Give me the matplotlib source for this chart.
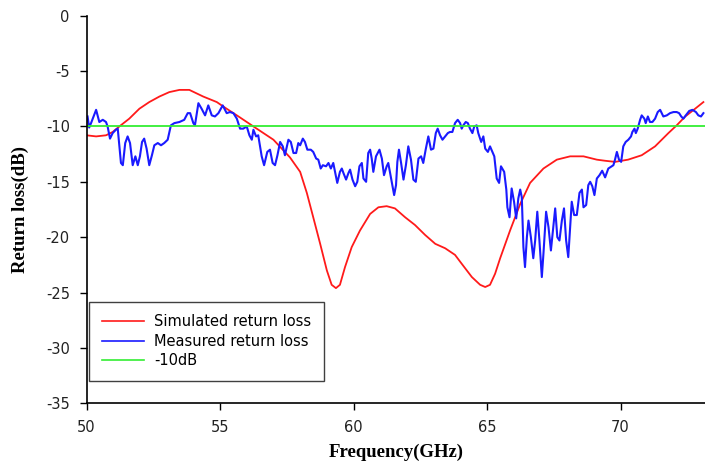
import matplotlib.pyplot as plt

# Simulated return loss (GHz, dB)
sim_freq = [50.00, 50.36, 50.73, 50.98, 51.23, 51.60, 51.98, 52.35, 52.73, 53.10,
            53.48, 53.85, 54.37, 54.88, 55.12, 55.63, 56.25, 57.00, 57.62, 58.00,
            58.25, 58.49, 58.75, 59.00, 59.18, 59.34, 59.49, 59.68, 59.93, 60.24,
            60.62, 60.93, 61.24, 61.55, 61.93, 62.30, 62.68, 63.06, 63.43, 63.80,
            64.05, 64.43, 64.74, 64.93, 65.11, 65.30, 65.49, 65.86, 66.24, 66.61,
            67.11, 67.61, 68.11, 68.61, 69.11, 69.42, 69.79, 70.28, 70.79, 71.29,
            71.79, 72.10, 72.42, 72.79, 73.10]
sim_db = [-10.8, -10.9, -10.8, -10.5, -10.0, -9.3, -8.4, -7.8, -7.3, -6.9,
          -6.7, -6.7, -7.3, -7.8, -8.2, -9.0, -10.0, -11.2, -12.8, -14.1,
          -16.0, -18.2, -20.6, -23.0, -24.3, -24.6, -24.3, -22.7, -20.9, -19.4,
          -17.9, -17.3, -17.2, -17.4, -18.2, -18.9, -19.8, -20.6, -21.0, -21.6,
          -22.4, -23.6, -24.3, -24.5, -24.3, -23.3, -21.9, -19.4, -17.0, -15.1,
          -13.8, -13.0, -12.7, -12.7, -13.0, -13.1, -13.2, -13.0, -12.6, -11.8,
          -10.6, -9.9, -9.1, -8.4, -7.8]

# Measured return loss (GHz, dB)
meas_freq = [50.04, 50.10, 50.17, 50.36, 50.48, 50.61, 50.73, 50.79, 50.88, 50.98,
             51.10, 51.17, 51.23, 51.29, 51.36, 51.45, 51.54, 51.63, 51.73, 51.83,
             51.92, 52.00, 52.08, 52.16, 52.25, 52.35, 52.45, 52.54, 52.67, 52.79,
             52.91, 53.04, 53.16, 53.29, 53.48, 53.66, 53.79, 53.88, 54.00, 54.06,
             54.19, 54.31, 54.44, 54.56, 54.69, 54.81, 54.94, 55.10, 55.25, 55.37,
             55.50, 55.63, 55.75, 55.87, 56.00, 56.10, 56.19, 56.25, 56.35, 56.43,
             56.56, 56.65, 56.77, 56.87, 56.97, 57.06, 57.15, 57.25, 57.35, 57.43,
             57.56, 57.65, 57.75, 57.85, 57.93, 58.00, 58.10, 58.18, 58.27, 58.40,
             58.49, 58.60, 58.68, 58.77, 58.85, 58.97, 59.06, 59.15, 59.24, 59.34,
             59.39, 59.49, 59.56, 59.62, 59.72, 59.81, 59.87, 59.96, 60.06, 60.14,
             60.22, 60.31, 60.37, 60.47, 60.55, 60.62, 60.68, 60.74, 60.84, 60.97,
             61.06, 61.14, 61.24, 61.30, 61.39, 61.47, 61.52, 61.59, 61.64, 61.70,
             61.78, 61.87, 61.96, 62.05, 62.15, 62.24, 62.33, 62.43, 62.53, 62.61,
             62.70, 62.80, 62.90, 62.99, 63.08, 63.15, 63.24, 63.33, 63.43, 63.53,
             63.61, 63.70, 63.80, 63.90, 63.99, 64.05, 64.11, 64.20, 64.28, 64.36,
             64.45, 64.52, 64.61, 64.67, 64.78, 64.86, 64.93, 65.03, 65.11, 65.20,
             65.27, 65.36, 65.45, 65.52, 65.64, 65.72, 65.76, 65.84, 65.92, 66.01,
             66.09, 66.17, 66.24, 66.30, 66.36, 66.42, 66.49, 66.55, 66.64, 66.73,
             66.80, 66.88, 66.96, 67.05, 67.11, 67.21, 67.30, 67.39, 67.46, 67.55,
             67.63, 67.71, 67.80, 67.88, 67.96, 68.04, 68.11, 68.17, 68.26, 68.36,
             68.46, 68.55, 68.61, 68.71, 68.79, 68.86, 68.94, 69.02, 69.11, 69.21,
             69.31, 69.42, 69.54, 69.73, 69.79, 69.86, 69.94, 70.02, 70.10, 70.19,
             70.29, 70.39, 70.44, 70.52, 70.57, 70.64, 70.73, 70.79, 70.89, 70.94,
             71.02, 71.10, 71.19, 71.29, 71.39, 71.48, 71.54, 71.60, 71.73, 71.85,
             71.98, 72.10, 72.19, 72.27, 72.35, 72.44, 72.57, 72.69, 72.82, 72.91,
             73.01, 73.10]
meas_db = [-9.1, -10.1, -9.7, -8.5, -9.6, -9.4, -9.6, -10.0, -11.1, -10.6,
           -10.3, -10.2, -11.8, -13.3, -13.5, -11.5, -10.9, -11.5, -13.5, -12.7,
           -13.5, -12.7, -11.4, -11.1, -12.0, -13.5, -12.6, -11.7, -11.5, -11.7,
           -11.5, -11.2, -9.9, -9.7, -9.6, -9.4, -8.8, -8.8, -9.7, -9.9,
           -7.9, -8.4, -9.0, -8.1, -9.0, -9.1, -8.8, -8.1, -8.8, -8.7,
           -8.8, -9.3, -10.2, -10.2, -10.0, -10.8, -11.2, -10.3, -10.9, -10.8,
           -12.7, -13.5, -12.3, -12.1, -13.3, -13.5, -12.6, -11.4, -11.8, -12.6,
           -11.2, -11.4, -12.4, -12.4, -11.5, -11.7, -11.1, -11.4, -12.1, -12.1,
           -12.3, -12.9, -13.0, -13.8, -13.5, -13.6, -13.3, -13.8, -13.3, -14.5,
           -15.1, -14.1, -13.8, -14.2, -14.8, -14.2, -13.9, -14.8, -15.4, -15.0,
           -13.6, -13.3, -14.7, -15.0, -12.4, -12.1, -12.9, -14.1, -12.7, -12.1,
           -12.9, -14.4, -13.6, -13.3, -14.5, -15.6, -16.2, -15.3, -13.2, -12.1,
           -13.3, -14.8, -13.5, -11.8, -13.0, -14.8, -15.0, -12.9, -12.7, -13.3,
           -12.1, -10.9, -12.1, -12.0, -10.6, -10.2, -10.8, -11.2, -10.9, -10.6,
           -10.5, -10.5, -9.7, -9.4, -9.7, -10.2, -9.9, -9.6, -9.7, -10.2,
           -10.6, -10.0, -9.9, -10.6, -11.4, -10.9, -12.0, -12.3, -11.8, -12.3,
           -12.7, -14.7, -15.1, -13.6, -14.1, -15.7, -17.3, -18.2, -15.6, -16.8,
           -18.3, -16.5, -15.7, -16.4, -20.9, -22.7, -20.0, -18.5, -20.0, -21.9,
           -20.3, -17.7, -20.3, -23.6, -21.5, -17.7, -19.1, -21.2, -19.5, -17.4,
           -20.0, -20.3, -18.5, -17.4, -20.3, -21.8, -19.1, -16.8, -18.0, -18.0,
           -16.0, -15.7, -17.3, -17.1, -15.3, -15.0, -15.4, -16.2, -14.7, -14.4,
           -14.0, -14.6, -13.8, -13.5, -13.0, -12.3, -13.0, -13.2, -11.8, -11.4,
           -11.2, -10.9, -10.5, -10.2, -10.6, -10.2, -9.4, -9.0, -9.3, -9.7,
           -9.1, -9.6, -9.6, -9.3, -8.7, -8.5, -8.8, -9.1, -9.0, -8.8,
           -8.7, -8.7, -8.8, -9.1, -9.3, -9.0, -8.6, -8.5, -8.7, -9.0,
           -9.1, -8.8]

ref_level = -10
x_ticks = [50, 55, 60, 65, 70]
y_ticks = [0, -5, -10, -15, -20, -25, -30, -35]

plt.rcParams['axes.unicode_minus'] = False
plt.rcParams['font.family'] = 'DejaVu Sans'

fig = plt.figure(figsize=(7.05, 4.67), dpi=100)
ax = fig.add_axes([0.1227, 0.1364, 0.8773, 0.8300])

ax.plot(sim_freq, sim_db, color='#ff1a1a', linewidth=1.3, label='Simulated return loss')
ax.plot(meas_freq, meas_db, color='#1a1aff', linewidth=1.5, label='Measured return loss')
ax.axhline(ref_level, color='#33ee33', linewidth=1.3, label='-10dB')

ax.set_xlim(50, 73.16)
ax.set_ylim(-35, 0)
ax.set_xticks(x_ticks)
ax.set_yticks(y_ticks)
ax.tick_params(direction='out', length=5, width=1, pad=7, labelsize=10.5,
               labelcolor='#222222')

ax.spines['top'].set_visible(False)
ax.spines['right'].set_visible(False)
ax.spines['left'].set_linewidth(1.2)
ax.spines['bottom'].set_linewidth(1.2)

ax.set_xlabel('Frequency(GHz)', family='Liberation Serif', fontweight='bold',
              fontsize=13.5, labelpad=6)
ax.set_ylabel('Return loss(dB)', family='Liberation Serif', fontweight='bold',
              fontsize=13.5, labelpad=12)

leg = ax.legend(loc='upper left', bbox_to_anchor=(0.0045, 0.262), borderaxespad=0,
                fontsize=10.5, fancybox=False, framealpha=1, edgecolor='#404040',
                borderpad=0.85, labelspacing=0.32, handlelength=2.9,
                handletextpad=0.7)
leg.get_frame().set_linewidth(1.0)
for line in leg.get_lines():
    line.set_linewidth(1.2)

plt.savefig('out.png', dpi=100)
